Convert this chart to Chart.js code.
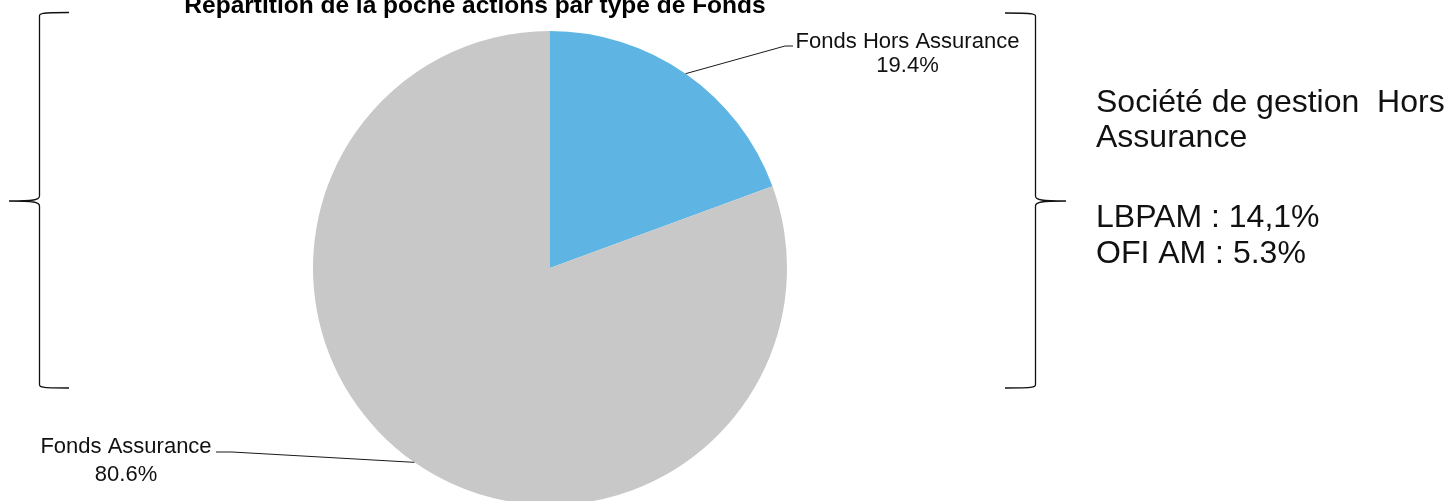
<!DOCTYPE html>
<html>
<head>
<meta charset="utf-8">
<script src="https://cdn.jsdelivr.net/npm/chart.js@4"></script>
<style>
html,body{margin:0;padding:0;background:#fff;overflow:hidden;width:1449px;height:501px;}
#wrap{position:relative;width:1449px;height:520px;}
</style>
</head>
<body>
<div id="wrap"><canvas id="c" width="1449" height="520"></canvas></div>
<script>
// ---- data ----
const chartTitle = "Répartition de la poche actions par type de Fonds";
const categories = ["Fonds Hors Assurance", "Fonds Assurance"];
const shares = [19.4, 80.6];
const shareLabels = ["19.4%", "80.6%"];
const colors = ["#5EB5E3", "#C8C8C8"];
const sideTitle = ["Société de gestion  Hors", "Assurance"];
const companies = ["LBPAM", "OFI AM"];
const companyShares = [14.1, 5.3];
const companyShareLabels = ["14,1%", "5.3%"];

const FONT = "'Liberation Sans', Arial, sans-serif";

const decor = {
  id: 'decor',
  afterDraw(chart) {
    const ctx = chart.ctx;
    const meta = chart.getDatasetMeta(0);
    ctx.save();
    // title
    ctx.fillStyle = '#000';
    ctx.font = "bold 24.5px " + FONT;
    ctx.textAlign = 'center';
    ctx.textBaseline = 'alphabetic';
    ctx.fillText(chartTitle, 475, 13);

    // leader lines from arc mid-angle on edge
    const labelDefs = [
      {elbow: [785, 46], end: [793, 46], tx: 907.5, ty1: 48, ty2: 72},
      {elbow: [232, 452], end: [216, 452], tx: 126, ty1: 453, ty2: 481}
    ];
    meta.data.forEach((arc, i) => {
      const p = arc.getProps(['x','y','startAngle','endAngle','outerRadius'], true);
      const mid = (p.startAngle + p.endAngle) / 2;
      const sx = p.x + Math.cos(mid) * p.outerRadius;
      const sy = p.y + Math.sin(mid) * p.outerRadius;
      const d = labelDefs[i];
      ctx.strokeStyle = '#1a1a1a';
      ctx.lineWidth = 1;
      ctx.beginPath();
      ctx.moveTo(sx, sy);
      ctx.lineTo(d.elbow[0], d.elbow[1]);
      ctx.lineTo(d.end[0], d.end[1]);
      ctx.stroke();
      ctx.fillStyle = '#111';
      ctx.font = "22px " + FONT;
      ctx.textAlign = 'center';
      ctx.fillText(chart.data.labels[i], d.tx, d.ty1);
      ctx.fillText(shareLabels[i], d.tx, d.ty2);
    });

    // braces
    function brace(xv, xArm, xTip, yTop, yMid, yBot) {
      const dir = Math.sign(xTip - xv);
      ctx.beginPath();
      ctx.moveTo(xArm, yTop);
      ctx.bezierCurveTo(xv + dir*2, yTop, xv, yTop + 1, xv, yTop + 5);
      ctx.lineTo(xv, yMid - 5);
      ctx.bezierCurveTo(xv, yMid - 1, xv + dir*6, yMid, xTip, yMid);
      ctx.moveTo(xTip, yMid);
      ctx.bezierCurveTo(xv + dir*6, yMid, xv, yMid + 1, xv, yMid + 5);
      ctx.lineTo(xv, yBot - 5);
      ctx.bezierCurveTo(xv, yBot - 1, xv + dir*2, yBot, xArm, yBot);
      ctx.strokeStyle = '#111';
      ctx.lineWidth = 1.3;
      ctx.stroke();
    }
    brace(39.5, 69, 9, 12.5, 201, 388);
    brace(1035.5, 1005, 1066, 13, 201, 388);

    // side text
    ctx.fillStyle = '#111';
    ctx.font = "32px " + FONT;
    ctx.textAlign = 'left';
    ctx.fillText(sideTitle[0], 1096, 112);
    ctx.fillText(sideTitle[1], 1096, 147);
    companies.forEach((c, i) => {
      ctx.fillText(c + " : " + companyShareLabels[i], 1096, 227 + i * 36);
    });
    ctx.restore();
  }
};

new Chart(document.getElementById('c'), {
  type: 'pie',
  data: {
    labels: categories,
    datasets: [{
      data: shares,
      backgroundColor: colors,
      borderWidth: 0,
      hoverOffset: 0
    }]
  },
  options: {
    responsive: false,
    animation: false,
    layout: { padding: { left: 313, right: 662, top: 31, bottom: 15 } },
    plugins: { legend: { display: false }, tooltip: { enabled: false }, title: { display: false } },
    events: []
  },
  plugins: [decor]
});
</script>
</body>
</html>
